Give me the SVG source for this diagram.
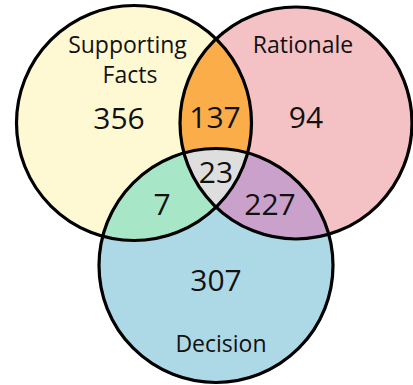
<svg xmlns="http://www.w3.org/2000/svg" width="413" height="385" viewBox="0 0 413 385">
<style>
.lbl{font-family:"Open Sans","Noto Sans",sans-serif;font-size:23px;fill:#111;text-anchor:middle}
.num{font-family:"Open Sans","Noto Sans",sans-serif;font-size:30px;fill:#111;text-anchor:middle}
.edge{fill:none;stroke:#000;stroke-width:3.2}
</style>
<defs>
<clipPath id="cA"><circle cx="134" cy="123" r="117.5"/></clipPath>
<clipPath id="cB"><circle cx="296" cy="123" r="116"/></clipPath>
</defs>
<g id="regions">
<circle cx="134" cy="123" r="117.5" fill="#FFF9D3"/>
<circle cx="296" cy="123" r="116" fill="#F4C2C4"/>
<circle cx="216" cy="265.5" r="117" fill="#ADD8E6"/>
<circle cx="296" cy="123" r="116" fill="#FBAD4A" clip-path="url(#cA)"/>
<circle cx="216" cy="265.5" r="117" fill="#A7E6C7" clip-path="url(#cA)"/>
<circle cx="216" cy="265.5" r="117" fill="#C9A1CB" clip-path="url(#cB)"/>
<g clip-path="url(#cB)"><circle cx="216" cy="265.5" r="117" fill="#DEDEDE" clip-path="url(#cA)"/></g>
</g>
<g id="node-supporting-facts">
<circle class="edge" cx="134" cy="123" r="117.5"/>
<text class="lbl" x="127.5" y="53">Supporting</text>
<text class="lbl" x="130" y="83">Facts</text>
</g>
<g id="node-rationale">
<circle class="edge" cx="296" cy="123" r="116"/>
<text class="lbl" x="303" y="53">Rationale</text>
</g>
<g id="node-decision">
<circle class="edge" cx="216" cy="265.5" r="117"/>
<text class="lbl" x="221" y="352">Decision</text>
</g>
<g id="connectors"></g>
<g id="counts">
<text class="num" x="119" y="129">356</text>
<text class="num" x="215" y="128">137</text>
<text class="num" x="306" y="128">94</text>
<text class="num" x="216" y="183">23</text>
<text class="num" x="162" y="215">7</text>
<text class="num" x="270" y="215">227</text>
<text class="num" x="216" y="291">307</text>
</g>
</svg>
